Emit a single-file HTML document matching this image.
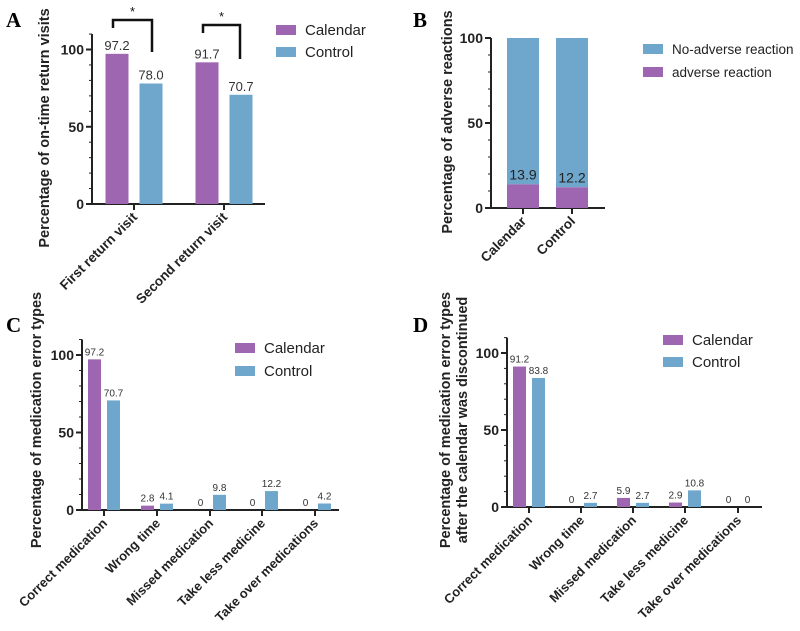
<!DOCTYPE html>
<html><head><meta charset="utf-8"><style>
body{margin:0;background:#fff;}
svg{display:block;font-family:"Liberation Sans",Arial,sans-serif;}
.pl{font-family:"Liberation Serif",serif;font-weight:bold;font-size:21px;}
</style></head><body>
<svg id="s" width="800" height="631" viewBox="0 0 800 631">
<text class="pl" x="6" y="27">A</text>
<text class="pl" x="413" y="27">B</text>
<text class="pl" x="6" y="332">C</text>
<text class="pl" x="413" y="332">D</text>
</svg>
<script>
const PURPLE='#9e66b0', BLUE='#6fa6cb';
const catsA=['First return visit','Second return visit'];
const calA=[97.2,91.7];
const conA=[78.0,70.7];
const catsB=['Calendar','Control'];
const advB=[13.9,12.2];
const totalB=[100,100];
const catsCD=['Correct medication','Wrong time','Missed medication','Take less medicine','Take over medications'];
const calC=[97.2,2.8,0,0,0];
const conC=[70.7,4.1,9.8,12.2,4.2];
const calD=[91.2,0,5.9,2.9,0];
const conD=[83.8,2.7,2.7,10.8,0];
const yTicks=[0,50,100];

const s=document.getElementById('s');
const NS='http://www.w3.org/2000/svg';
function mk(t,a,txt){const e=document.createElementNS(NS,t);for(const k in a)e.setAttribute(k,a[k]);if(txt!==undefined)e.textContent=txt;s.appendChild(e);return e;}
function fmt(v){return v===0?'0':v.toFixed(1);}

function axes(p,name){
  const y=v=>p.y0-(p.y0-p.y100)*v/100;
  let e=mk('line',{x1:p.ax,y1:p.y0,x2:p.ax,y2:y(p.ymax),stroke:'#222','stroke-width':2});
  
  
  e=mk('line',{x1:p.ax-1,y1:p.y0,x2:p.xend,y2:p.y0,stroke:'#222','stroke-width':2});
  
  
  for(let v=0;v<=p.ymax;v+=10){
    const major=v%50===0;
    mk('line',{x1:p.ax-(major?6:3),y1:y(v),x2:p.ax,y2:y(v),stroke:'#222','stroke-width':major?2:1});
  }
  yTicks.forEach(v=>{
    e=mk('text',{x:p.ax-8,y:y(v)+5,'text-anchor':'end','font-size':14,'font-weight':'bold',fill:'#222'},v);
    
    
  });
  return y;
}
function xlabels(p,cats,ticks,name,fs){
  cats.forEach((c,i)=>{
    mk('line',{x1:ticks[i],y1:p.y0,x2:ticks[i],y2:p.y0+6,stroke:'#222','stroke-width':2});
    const e=mk('text',{x:ticks[i]+4,y:p.y0+14,'text-anchor':'end','font-size':fs,'font-weight':'bold',fill:'#222',transform:`rotate(-45 ${ticks[i]+4} ${p.y0+14})`},c);
    
    
  });
}
function ytitle(x,cy,lines,name){
  lines.forEach((l,i)=>{
    const e=mk('text',{x:x+i*17,y:cy,'text-anchor':'middle','font-size':14.5,'font-weight':'bold',fill:'#222',transform:`rotate(-90 ${x+i*17} ${cy})`},l);
    
    
  });
}
function legend(x,y,gap,items,name,fs){
  items.forEach((it,i)=>{
    let e=mk('rect',{x:x,y:y+i*gap,width:20,height:10,fill:it[1]});
    
    
    e=mk('text',{x:x+29,y:y+i*gap+10,'font-size':fs,fill:'#222'},it[0]);
    
    
  });
}
function grouped(p,cats,ticks,cal,con,name,off,w,fs){
  const y=axes(p,name);
  cats.forEach((c,i)=>{
    [[cal,PURPLE,-off,'calendar'],[con,BLUE,off,'control']].forEach(([arr,col,o,nm])=>{
      const cx=ticks[i]+o,v=arr[i];
      const r=mk('rect',{x:cx-w/2,y:y(v),width:w,height:p.y0-y(v),fill:col});
      
      
      const t=mk('text',{x:cx,y:y(v)-4,'text-anchor':'middle','font-size':fs,fill:'#333'},fmt(v));
      
      
    });
  });
  return y;
}

// Panel A
const pA={ax:92,y0:204,y100:49.5,ymax:110,xend:265};
const tA=[134,224];
grouped(pA,catsA,tA,calA,conA,'panel-a',17,23,13);
xlabels(pA,catsA,tA,'panel-a',13.5);
ytitle(49,128,['Percentage of on-time return visits'],'panel-a');
legend(276,25,22,[['Calendar',PURPLE],['Control',BLUE]],'panel-a',15);
[[113,152,20,30],[203,240,25,37]].forEach(([x1,x2,ytop,yb])=>{
  const b=mk('path',{d:`M${x1} ${ytop+8} V${ytop} H${x2} V${yb+22}`,fill:'none',stroke:'#111','stroke-width':2.5});
  
  
  const st=mk('text',{x:(x1+x2)/2,y:ytop-4,'text-anchor':'middle','font-size':13,fill:'#111'},'*');
  
  
});

// Panel B
const pB={ax:491,y0:208,y100:38,ymax:100,xend:605};
const tB=[523,572];
const yB=axes(pB,'panel-b');
catsB.forEach((c,i)=>{
  let r=mk('rect',{x:tB[i]-16,y:yB(totalB[i]),width:32,height:yB(advB[i])-yB(totalB[i]),fill:BLUE});
  
  
  r=mk('rect',{x:tB[i]-16,y:yB(advB[i]),width:32,height:pB.y0-yB(advB[i]),fill:PURPLE});
  
  
  const t=mk('text',{x:tB[i],y:yB(advB[i])-5,'text-anchor':'middle','font-size':14,fill:'#222'},fmt(advB[i]));
  
  
});
xlabels(pB,catsB,tB,'panel-b',13.5);
ytitle(452,122,['Percentage of adverse reactions'],'panel-b');
legend(643,44,23,[['No-adverse reaction',BLUE],['adverse reaction',PURPLE]],'panel-b',13.5);

// Panel C
const pC={ax:82,y0:510,y100:355,ymax:110,xend:339};
const tC=[104,157,210,262,315];
grouped(pC,catsCD,tC,calC,conC,'panel-c',9.5,13,10);
xlabels(pC,catsCD,tC,'panel-c',13);
ytitle(41,420,['Percentage of medication error types'],'panel-c');
legend(235,343,23,[['Calendar',PURPLE],['Control',BLUE]],'panel-c',15);

// Panel D
const pD={ax:507,y0:507,y100:353,ymax:110,xend:762};
const tD=[529,581,633,685,738];
grouped(pD,catsCD,tD,calD,conD,'panel-d',9.5,13,10);
xlabels(pD,catsCD,tD,'panel-d',13);
ytitle(450,420,['Percentage of medication error types','after the calendar was discontinued'],'panel-d');
legend(663,335,22,[['Calendar',PURPLE],['Control',BLUE]],'panel-d',15);
</script>
</body></html>
